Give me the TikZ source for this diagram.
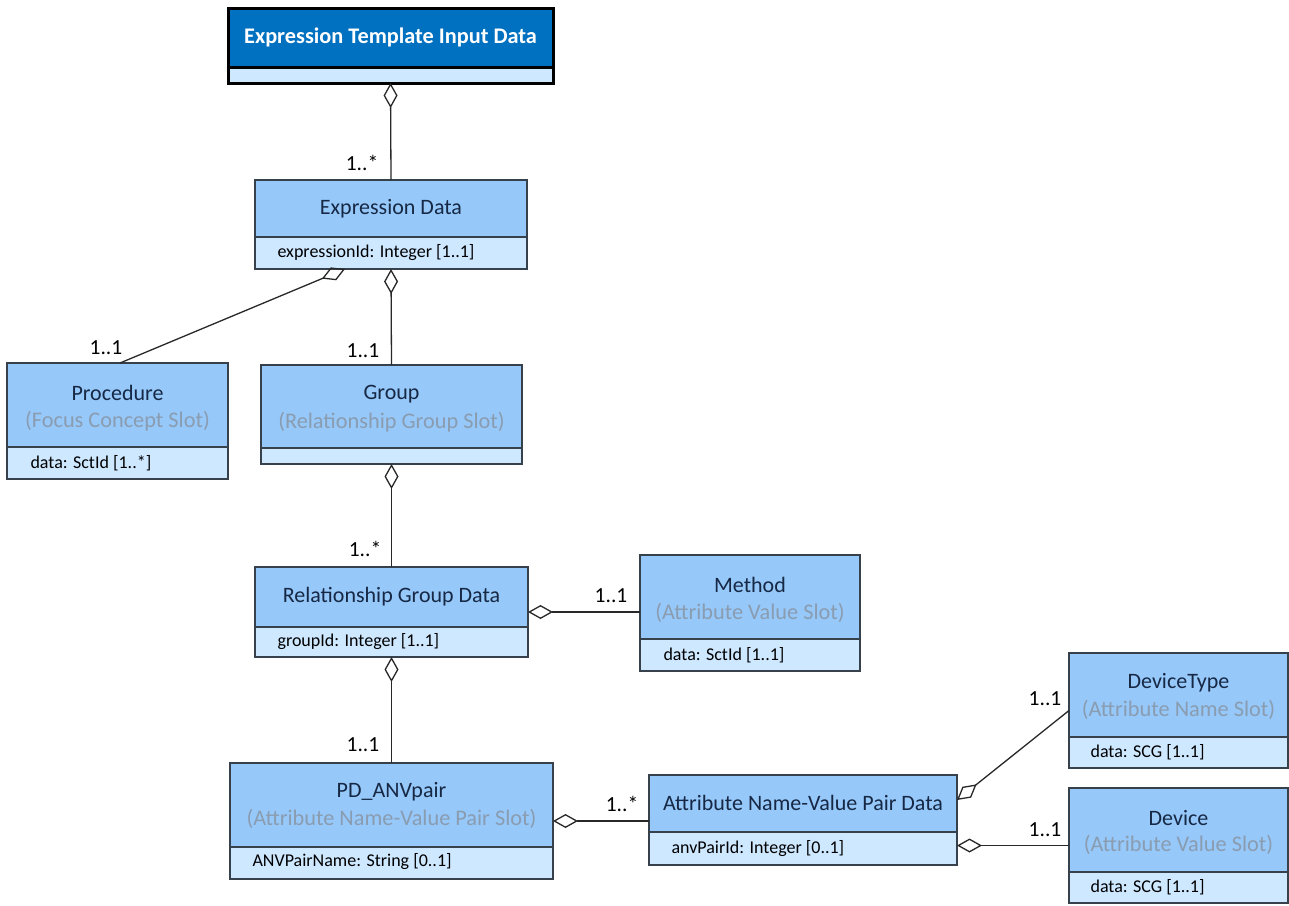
\documentclass[tikz,border=0pt]{standalone}
\usepackage{fontspec}
\setmainfont{Carlito}
\usetikzlibrary{arrows.meta}
\definecolor{hdrc}{RGB}{150,200,250}
\definecolor{attrc}{RGB}{206,232,255}
\definecolor{topc}{RGB}{0,112,192}
\definecolor{titlec}{RGB}{22,40,68}
\definecolor{slotc}{RGB}{138,156,176}
\definecolor{bordc}{RGB}{55,65,75}
\definecolor{linec}{RGB}{40,40,40}
\tikzset{
  cls/.style={draw=bordc, line width=1.4pt, fill=attrc, rectangle, inner sep=0pt, outer sep=0pt, anchor=north west},
  hdr/.style={draw=bordc, line width=1.4pt, fill=hdrc},
  ttl/.style={font=\fontsize{22}{25}\selectfont, text=titlec},
  slottext/.style={font=\fontsize{22.3}{25}\selectfont, text=slotc},
  attrtext/.style={font=\fontsize{18}{21}\selectfont, text=black, anchor=west},
  mult/.style={font=\fontsize{21.5}{24}\selectfont, text=black},
  agg/.style={draw=linec, line width=1.3pt, {Diamond[open, length=25pt, width=14pt, line width=1.3pt]}-},
}
\begin{document}
\begin{tikzpicture}[x=1pt, y=-1pt]
\useasboundingbox (0,0) rectangle (1289,905);
\fill[white] (0,0) rectangle (1289,905);

% Expression Template Input Data
\node[cls, draw=black, line width=3pt, minimum width=325pt, minimum height=75pt] (etid) at (228,8) {};
\draw[black, line width=3pt, fill=topc] (228,8) rectangle (553,67);
\node[font=\bfseries\fontsize{22.3}{25}\selectfont, text=white] (etidt) at (390.5,37) {Expression Template Input Data};

% Expression Data
\node[cls, minimum width=272pt, minimum height=89pt] (ed) at (255,180) {};
\draw[hdr] (255,180) rectangle (527,237);
\node[ttl] (edt) at (391,209) {Expression Data};
\node[attrtext] (eda) at (274,253) {expressionId: Integer [1..1]};

% Procedure
\node[cls, minimum width=221pt, minimum height=116pt] (proc) at (7,363) {};
\draw[hdr] (7,363) rectangle (228,447);
\node[ttl] (proct) at (117.5,393) {Procedure};
\node[slottext] (procs) at (117.5,421) {(Focus Concept Slot)};
\node[attrtext] (proca) at (27,463) {data: SctId [1..*]};

% Group
\node[cls, minimum width=261pt, minimum height=99pt] (grp) at (261,365) {};
\draw[hdr] (261,365) rectangle (522,448);
\node[ttl] (grpt) at (391.5,394) {Group};
\node[slottext] (grps) at (391.5,422) {(Relationship Group Slot)};

% Relationship Group Data
\node[cls, minimum width=273pt, minimum height=90pt] (rgd) at (255,567) {};
\draw[hdr] (255,567) rectangle (528,627);
\node[ttl] (rgdt) at (391.5,597) {Relationship Group Data};
\node[attrtext] (rgda) at (274,642) {groupId: Integer [1..1]};

% Method
\node[cls, minimum width=220pt, minimum height=116pt] (meth) at (640,555) {};
\draw[hdr] (640,555) rectangle (860,639);
\node[ttl] (metht) at (750,585) {Method};
\node[slottext] (meths) at (750,613) {(Attribute Value Slot)};
\node[attrtext] (metha) at (660,655) {data: SctId [1..1]};

% DeviceType
\node[cls, minimum width=219pt, minimum height=115pt] (dt) at (1069,653) {};
\draw[hdr] (1069,653) rectangle (1288,737);
\node[ttl] (dtt) at (1178.5,683) {DeviceType};
\node[slottext] (dts) at (1178.5,710) {(Attribute Name Slot)};
\node[attrtext] (dta) at (1087,752) {data: SCG [1..1]};

% Device
\node[cls, minimum width=219pt, minimum height=115pt] (dev) at (1069,788) {};
\draw[hdr] (1069,788) rectangle (1288,872);
\node[ttl] (devt) at (1178.5,818) {Device};
\node[slottext] (devs) at (1178.5,845) {(Attribute Value Slot)};
\node[attrtext] (deva) at (1087,887) {data: SCG [1..1]};

% PD_ANVpair
\node[cls, minimum width=323pt, minimum height=116pt] (pd) at (230,763) {};
\draw[hdr] (230,763) rectangle (553,847);
\node[ttl] (pdt) at (391.5,792) {PD\_ANVpair};
\node[slottext] (pds) at (391.5,819) {(Attribute Name-Value Pair Slot)};
\node[attrtext] (pda) at (249,862) {ANVPairName: String [0..1]};

% Attribute Name-Value Pair Data
\node[cls, minimum width=308pt, minimum height=90pt] (anv) at (649,775) {};
\draw[hdr] (649,775) rectangle (957,832);
\node[ttl] (anvt) at (803,803) {Attribute Name-Value Pair Data};
\node[attrtext] (anva) at (668,849) {anvPairId: Integer [0..1]};

% Connectors
\draw[agg] (etid.south) -- (ed.north);
\draw[agg] ([xshift=90pt]ed.south west) -- ([xshift=113pt]proc.north west);
\draw[agg] (ed.south) -- (grp.north);
\draw[agg] (grp.south) -- (rgd.north);
\draw[agg] (rgd.east) -- (rgd.east -| meth.west);
\draw[agg] (rgd.south) -- (pd.north);
\draw[agg] (pd.east) -- (pd.east -| anv.west);
\draw[agg] ([yshift=-25pt]anv.north east) -- (dt.west);
\draw[agg] (anv.east |- dev.west) -- (dev.west);

% Multiplicities
\node[mult] (m1) at (362,163) {1..*};
\node[mult] (m2) at (106,348) {1..1};
\node[mult] (m3) at (363,351) {1..1};
\node[mult] (m4) at (365,549) {1..*};
\node[mult] (m5) at (611,596) {1..1};
\node[mult] (m6) at (363,745) {1..1};
\node[mult] (m7) at (622,804) {1..*};
\node[mult] (m8) at (1045,699) {1..1};
\node[mult] (m9) at (1045,830) {1..1};
\end{tikzpicture}
\end{document}
